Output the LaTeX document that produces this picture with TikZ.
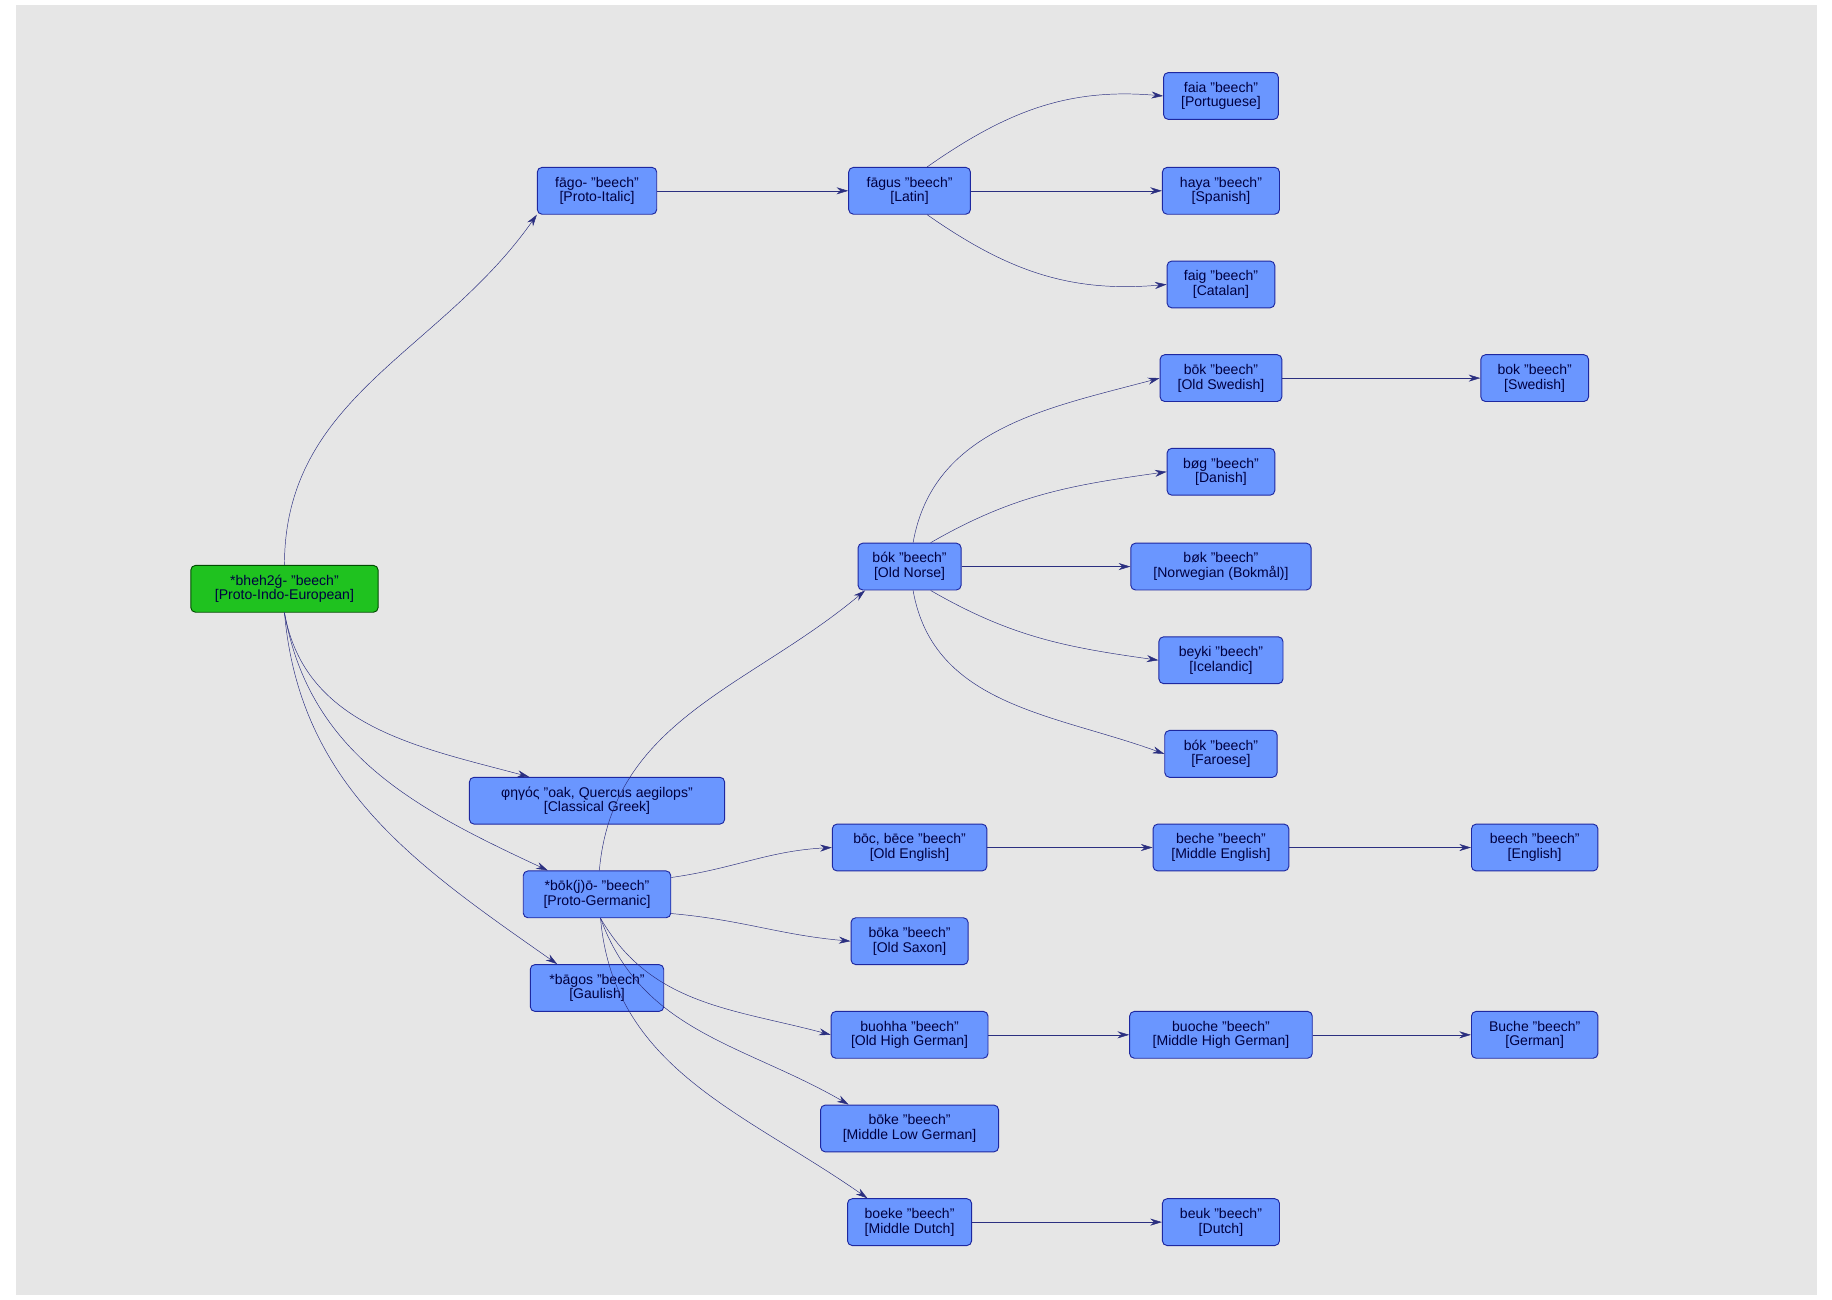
\documentclass[tikz,border=0pt]{standalone}
\usepackage{fontspec}
\setmainfont{Liberation Sans}
\usetikzlibrary{arrows.meta}
\definecolor{lang}{HTML}{6A96FF}
\definecolor{langrim}{HTML}{1E28A0}
\definecolor{root}{HTML}{1FC21F}
\definecolor{wire}{HTML}{2B2F80}
\definecolor{canvas}{HTML}{E6E6E6}
\tikzset{
  word/.style={shape=rectangle,rounded corners=4pt,draw=langrim,fill=lang,thick,
    align=center,inner sep=2pt,minimum height=40pt,font=\fontsize{12}{12.5}\selectfont,text=black!75!blue},
  proto/.style={word,fill=root,draw=black!70!green},
  link/.style={->,>={Stealth[length=10pt,width=6pt]},draw=wire,thin}
}
\begin{document}
\begin{tikzpicture}[x=1pt,y=-1pt]
\useasboundingbox (0,0) rectangle (1565,1110);
\fill[canvas] (14,4) rectangle (1552,1106);
% roots
\node[proto,minimum width=160pt] (pie) at (243,503) {*bheh2ǵ- "beech"\\{}[Proto-Indo-European]};
\node[word,minimum width=102pt] (ita) at (510,163) {fāgo- "beech"\\{}[Proto-Italic]};
\node[word,minimum width=218pt] (grc) at (510,684) {φηγός "oak, Quercus aegilops"\\{}[Classical Greek]};
\node[word,minimum width=126pt] (gem) at (510,764) {*bōk(j)ō- "beech"\\{}[Proto-Germanic]};
\node[word,minimum width=114pt] (gau) at (510,844) {*bāgos "beech"\\{}[Gaulish]};
% second column
\node[word,minimum width=104pt] (lat) at (777,163) {fāgus "beech"\\{}[Latin]};
\node[word,minimum width=88pt] (non) at (777,484) {bók "beech"\\{}[Old Norse]};
\node[word,minimum width=132pt] (ang) at (777,724) {bōc, bēce "beech"\\{}[Old English]};
\node[word,minimum width=100pt] (osx) at (777,804) {bōka "beech"\\{}[Old Saxon]};
\node[word,minimum width=134pt] (goh) at (777,884) {buohha "beech"\\{}[Old High German]};
\node[word,minimum width=152pt] (gml) at (777,964) {bōke "beech"\\{}[Middle Low German]};
\node[word,minimum width=106pt] (dum) at (777,1044) {boeke "beech"\\{}[Middle Dutch]};
% third column
\node[word,minimum width=98pt] (por) at (1043,82) {faia "beech"\\{}[Portuguese]};
\node[word,minimum width=100pt] (spa) at (1043,163) {haya "beech"\\{}[Spanish]};
\node[word,minimum width=92pt] (cat) at (1043,243) {faig "beech"\\{}[Catalan]};
\node[word,minimum width=104pt] (gmq) at (1043,323) {bōk "beech"\\{}[Old Swedish]};
\node[word,minimum width=92pt] (dan) at (1043,403) {bøg "beech"\\{}[Danish]};
\node[word,minimum width=154pt] (nob) at (1043,484) {bøk "beech"\\{}[Norwegian (Bokmål)]};
\node[word,minimum width=106pt] (isl) at (1043,564) {beyki "beech"\\{}[Icelandic]};
\node[word,minimum width=96pt] (fao) at (1043,644) {bók "beech"\\{}[Faroese]};
\node[word,minimum width=116pt] (enm) at (1043,724) {beche "beech"\\{}[Middle English]};
\node[word,minimum width=156pt] (gmh) at (1043,884) {buoche "beech"\\{}[Middle High German]};
\node[word,minimum width=100pt] (dut) at (1043,1044) {beuk "beech"\\{}[Dutch]};
% fourth column
\node[word,minimum width=92pt] (swe) at (1311,323) {bok "beech"\\{}[Swedish]};
\node[word,minimum width=108pt] (eng) at (1311,724) {beech "beech"\\{}[English]};
\node[word,minimum width=108pt] (deu) at (1311,884) {Buche "beech"\\{}[German]};
% connectors
\draw[link] (pie.north) to[out=90,in=235] (ita.south west);
\draw[link] (pie.south) to[out=-80,in=165] ([xshift=-58pt]grc.north);
\draw[link] (pie.south) to[out=-80,in=155] ([xshift=-42pt]gem.north);
\draw[link] (pie.south) to[out=-85,in=145] ([xshift=-34pt]gau.north);
\draw[link] (ita) -- (lat);
\draw[link] ([xshift=15pt]lat.north) to[out=35,in=175] (por.west);
\draw[link] (lat) -- (spa);
\draw[link] ([xshift=15pt]lat.south) to[out=-35,in=185] (cat.west);
\draw[link] (gmq) -- (swe);
\draw[link] ([xshift=2pt]gem.north) to[out=85,in=220] ([xshift=-38pt]non.south);
\draw[link] ([xshift=3pt]non.north) to[out=80,in=195] (gmq.west);
\draw[link] ([xshift=18pt]non.north) to[out=30,in=188] (dan.west);
\draw[link] (non) -- (nob);
\draw[link] ([xshift=18pt]non.south) to[out=-30,in=172] (isl.west);
\draw[link] ([xshift=3pt]non.south) to[out=-80,in=160] (fao.west);
\draw[link] ([yshift=-6pt]gem.north east) to[out=8,in=183] (ang.west);
\draw[link] ([yshift=4pt]gem.south east) to[out=-5,in=175] (osx.west);
\draw[link] ([xshift=3pt]gem.south) to[out=-60,in=165] (goh.west);
\draw[link] ([xshift=3pt]gem.south) to[out=-70,in=150] ([xshift=-52pt]gml.north);
\draw[link] ([xshift=3pt]gem.south) to[out=-85,in=145] ([xshift=-36pt]dum.north);
\draw[link] (ang) -- (enm);
\draw[link] (enm) -- (eng);
\draw[link] (goh) -- (gmh);
\draw[link] (gmh) -- (deu);
\draw[link] (dum) -- (dut);
\end{tikzpicture}
\end{document}
